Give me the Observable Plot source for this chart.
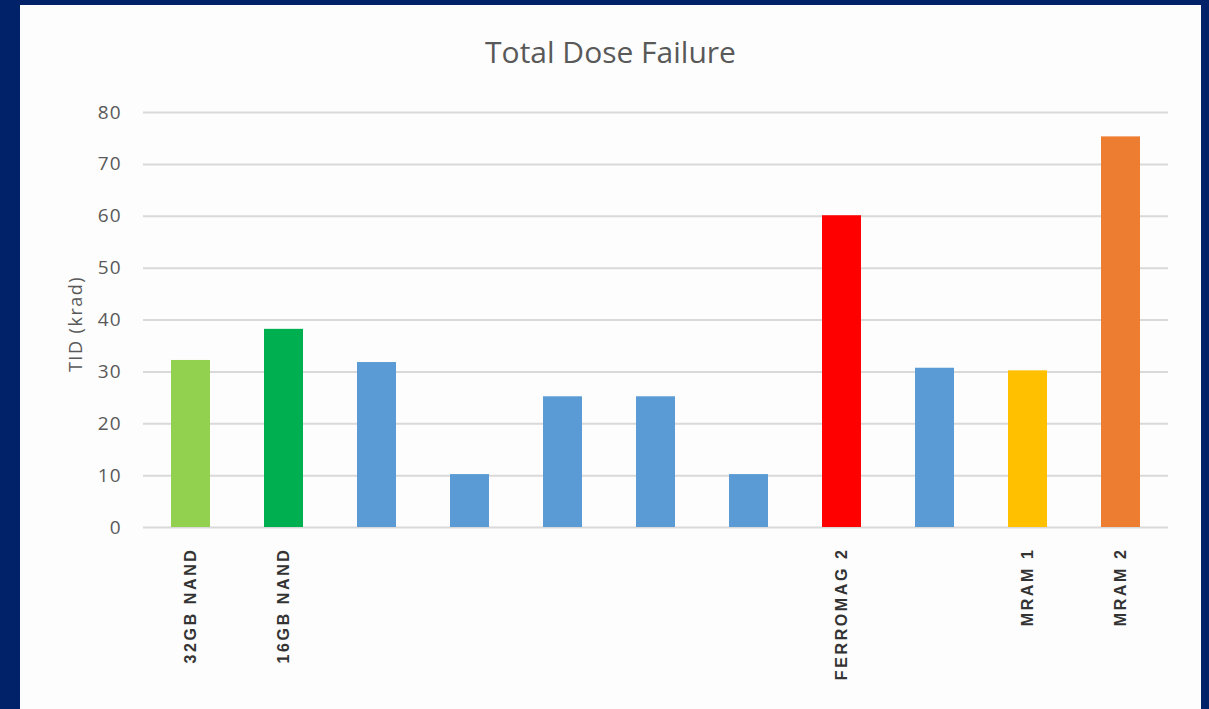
<!DOCTYPE html>
<html>
<head>
<meta charset="utf-8">
<script src="https://cdn.jsdelivr.net/npm/d3@7"></script>
<script src="https://cdn.jsdelivr.net/npm/@observablehq/plot@0.6"></script>
<style>
  html, body { margin: 0; padding: 0; background: #012169; width: 1209px; height: 709px; overflow: hidden; }
  #panel { position: absolute; left: 20px; top: 5px; width: 1181px; height: 704px; background: #fdfdfd; }
  #title { height: 66px; padding-top: 14px; line-height: 66px; text-align: center;
           font-family: "Open Sans", sans-serif; font-size: 30px; color: #595959; }
  .tdf g[aria-label="x-axis tick label"] text { letter-spacing: 2.6px; }
  .tdf g[aria-label="y-axis tick label"] text { letter-spacing: 1px; }
  .tdf g[aria-label="text"] text { letter-spacing: 1.5px; }
</style>
</head>
<body>
<div id="panel">
  <div id="title">Total Dose Failure</div>
  <div id="chart"></div>
</div>
<script>
// Device categories (unlabelled ones are left blank on the axis)
const labels = ["32GB NAND", "16GB NAND", "", "", "", "", "", "FERROMAG 2", "", "MRAM 1", "MRAM 2"];
// Total ionizing dose at failure, krad
const values = [32.2, 38.2, 31.8, 10.2, 25.2, 25.2, 10.2, 60.1, 30.7, 30.2, 75.3];
// Bar colours per device
const colors = ["#92d050", "#00b050", "#5b9bd5", "#5b9bd5", "#5b9bd5", "#5b9bd5", "#5b9bd5",
                "#ff0000", "#5b9bd5", "#ffc000", "#ed7d31"];
const yTicks = [0, 10, 20, 30, 40, 50, 60, 70, 80];

const rows = values.map((v, i) => ({i, label: labels[i], value: v, color: colors[i]}));

const chart = Plot.plot({
  className: "tdf",
  width: 1181,
  height: 624,
  marginTop: 27,
  marginBottom: 182,
  marginLeft: 123,
  marginRight: 33,
  style: {fontFamily: "Open Sans, sans-serif", background: "transparent", overflow: "visible"},
  x: {domain: d3.range(labels.length), paddingInner: 0.58, paddingOuter: 0.29},
  y: {domain: [0, 80]},
  color: {type: "identity"},
  marks: [
    Plot.gridY(yTicks, {stroke: "#d9d9d9", strokeOpacity: 1, strokeWidth: 2}),
    Plot.barY(rows, {x: "i", y: "value", fill: "color"}),
    Plot.axisY(yTicks, {tickSize: 0, tickPadding: 22, fontSize: 19, fill: "#595959", label: null}),
    Plot.text(["TID (krad)"], {frameAnchor: "left", textAnchor: "middle", rotate: -90, dx: -67, dy: 4,
                               fontSize: 18, fill: "#595959"}),
    Plot.axisX({tickSize: 0, tickRotate: -90, tickPadding: 20, tickFormat: (i) => labels[i],
                label: null, fontSize: 16, fontWeight: "bold", fill: "#333333",
                fontFamily: "Liberation Sans, Arial, sans-serif"})
  ]
});
document.getElementById("chart").appendChild(chart);
</script>
</body>
</html>
